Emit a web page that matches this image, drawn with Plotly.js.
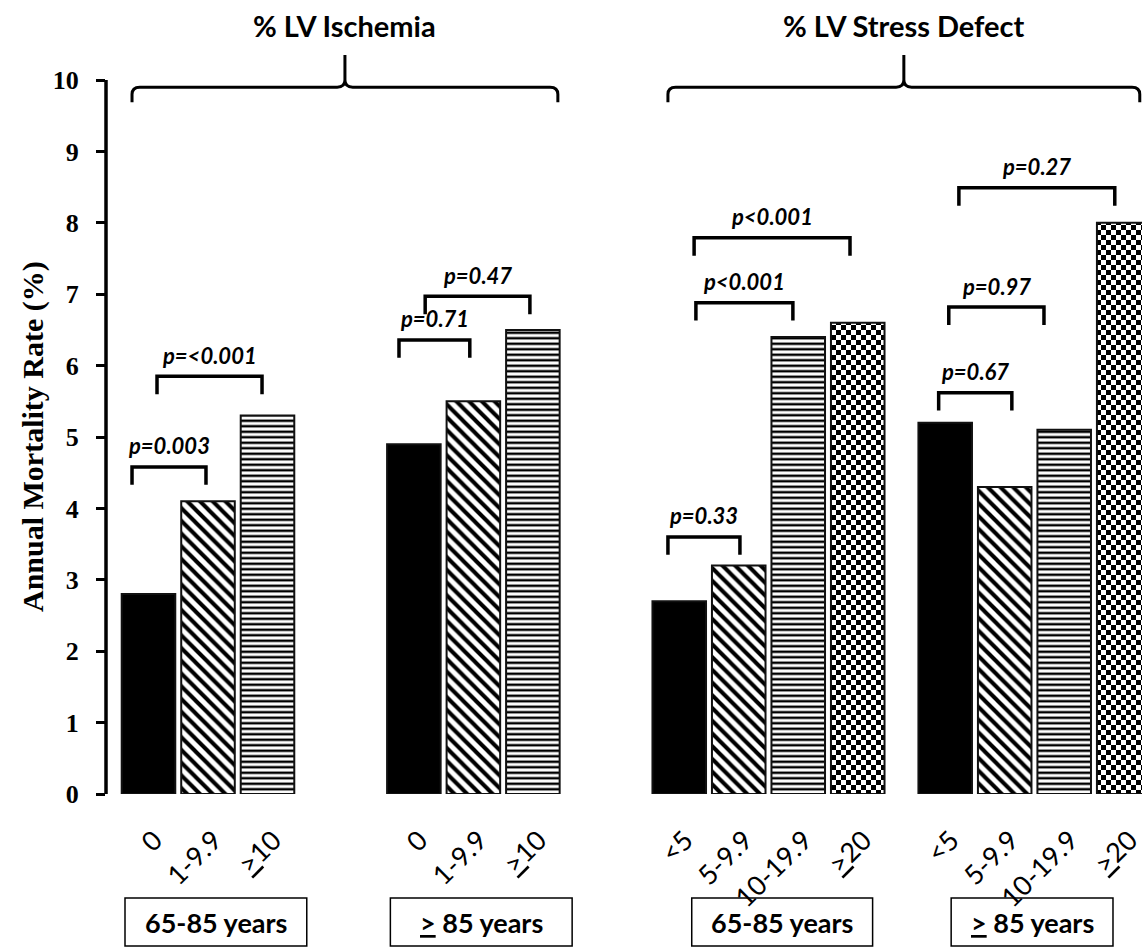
<!DOCTYPE html>
<html><head><meta charset="utf-8">
<script src="https://cdn.plot.ly/plotly-3.0.1.min.js"></script>
<style>html,body{margin:0;padding:0;background:#fff}</style>
</head><body>
<div id="chart" style="width:1142px;height:948px"></div>
<script>
// ---------------- data ----------------
const panelTitles = ['% LV Ischemia', '% LV Stress Defect'];
const groupLabels = ['65-85 years', '<u>&gt;</u> 85 years', '65-85 years', '<u>&gt;</u> 85 years'];
const ischemiaCats = ['0', '1-9.9', '<u>&gt;</u>10'];
const defectCats = ['&lt;5', '5-9.9', '10-19.9', '<u>&gt;</u>20'];
const ischemiaYoung = [2.8, 4.1, 5.3];
const ischemiaOld = [4.9, 5.5, 6.5];
const defectYoung = [2.7, 3.2, 6.4, 6.6];
const defectOld = [5.2, 4.3, 5.1, 8.0];
const yTickVals = [0, 1, 2, 3, 4, 5, 6, 7, 8, 9, 10];
const yTitle = 'Annual Mortality Rate (%)';
// p-value comparisons: label, group, bar from, bar to, bracket height (%)
const pText = ['p=0.003', 'p=&lt;0.001', 'p=0.71', 'p=0.47', 'p=0.33', 'p&lt;0.001', 'p&lt;0.001', 'p=0.67', 'p=0.97', 'p=0.27'];
const pGroup = [0, 0, 1, 1, 2, 2, 2, 3, 3, 3];
const pFrom = [0, 0, 0, 0, 0, 0, 0, 0, 0, 0];
const pTo = [1, 2, 1, 2, 1, 2, 3, 1, 2, 3];
const pLevel = [4.58, 5.85, 6.36, 6.97, 3.60, 6.88, 7.79, 5.62, 6.82, 8.49];

// ---------------- layout helpers ----------------
const groups = [
  {cats: ischemiaCats, vals: ischemiaYoung},
  {cats: ischemiaCats, vals: ischemiaOld},
  {cats: defectCats, vals: defectYoung},
  {cats: defectCats, vals: defectOld}
];
const groupGap = [0, 1.46, 1.46, 0.47];
const barWidth = 0.9;
const starts = [];
let cur = 0;
groups.forEach((g, i) => {
  if (i > 0) cur += groups[i - 1].cats.length + groupGap[i];
  starts.push(cur);
});
const pos = (g, i) => starts[g] + i;

const styles = [
  {color: 'black', pattern: {shape: ''}},
  {color: 'white', pattern: {shape: '\\', fgcolor: 'black', bgcolor: 'white', size: 9, solidity: 0.45, fillmode: 'replace'}},
  {color: 'white', pattern: {shape: '-', fgcolor: 'black', bgcolor: 'white', size: 5.5, solidity: 0.45, fillmode: 'replace'}},
  {color: 'white', pattern: {shape: '+', fgcolor: 'black', bgcolor: 'white', size: 10, solidity: 0.5, fillmode: 'replace'}}
];

const traces = [];
for (let k = 0; k < 4; k++) {
  const xs = [], ys = [];
  groups.forEach((g, gi) => {
    if (k < g.vals.length) { xs.push(pos(gi, k)); ys.push(g.vals[k]); }
  });
  traces.push({
    type: 'bar', x: xs, y: ys, width: barWidth,
    marker: {color: styles[k].color, pattern: styles[k].pattern, line: {color: '#111', width: 2}},
    hoverinfo: 'skip', showlegend: false
  });
}

const tickvals = [], ticktext = [];
groups.forEach((g, gi) => g.cats.forEach((c, i) => { tickvals.push(pos(gi, i)); ticktext.push(c); }));

const plotH = 794;
const pxToPaperY = px => (plotH - px) / plotH;

const shapes = [];
const annotations = [];

// y axis line
shapes.push({type: 'line', xref: 'paper', yref: 'y', x0: 0, x1: 0, y0: 0, y1: 10, line: {color: 'black', width: 3.5}});

// p-value brackets
const dxL = [-0.277, 0.143, -0.25, 0.19, -0.19, 0.28, 0.25, -0.11, 0.06, 0.23];
const dxR = [-0.034, -0.092, -0.06, -0.05, 0.02, -0.09, -0.13, 0.12, -0.34, -0.15];
const leg = 0.25;
pText.forEach((t, i) => {
  const xl = pos(pGroup[i], pFrom[i]) + dxL[i];
  const xr = pos(pGroup[i], pTo[i]) + dxR[i];
  const y = pLevel[i];
  shapes.push({type: 'path', xref: 'x', yref: 'y',
    path: `M${xl},${y - leg} L${xl},${y} L${xr},${y} L${xr},${y - leg}`,
    line: {color: 'black', width: 3.5}});
  annotations.push({xref: 'x', yref: 'y', x: (xl + xr) / 2, y: y, yshift: 21, yanchor: 'middle',
    text: t, showarrow: false,
    font: {family: 'Lato', size: 22, weight: 'bold', style: 'italic', color: 'black'}});
});

// panel braces and titles
const panelGroups = [[0, 1], [2, 3]];
const braceL = [-0.277, -0.19];
const braceR = [0.42, 0.27];
const yH = 9.90, yEnd = 9.69, yTop = 10.35, rx = 0.13, ry = 0.1;
panelGroups.forEach((pg, p) => {
  const xl = pos(pg[0], 0) + braceL[p];
  const lastG = pg[1];
  const xr = pos(lastG, groups[lastG].cats.length - 1) + braceR[p];
  const xm = (xl + xr) / 2;
  const path = `M${xl},${yEnd} L${xl},${yH - ry} Q${xl},${yH} ${xl + rx},${yH} L${xm - rx},${yH} Q${xm},${yH} ${xm},${yH + ry} L${xm},${yTop} ` +
    `M${xm},${yH + ry} Q${xm},${yH} ${xm + rx},${yH} L${xr - rx},${yH} Q${xr},${yH} ${xr},${yH - ry} L${xr},${yEnd}`;
  shapes.push({type: 'path', xref: 'x', yref: 'y', path: path, line: {color: 'black', width: 3}});
  annotations.push({xref: 'x', yref: 'y', x: xm, y: 10.77, yanchor: 'middle', text: panelTitles[p], showarrow: false,
    font: {family: 'Lato', size: 29, weight: 'bold', color: 'black'}});
});

// group label boxes
const boxL = [-0.395, -0.395, 0.21, 0.10];
const boxR = [0.66, 0.66, 0.25, -0.18];
groups.forEach((g, gi) => {
  const x0 = pos(gi, 0) + boxL[gi];
  const x1 = pos(gi, g.cats.length - 1) + boxR[gi];
  shapes.push({type: 'rect', xref: 'x', yref: 'paper', x0: x0, x1: x1, y0: pxToPaperY(946), y1: pxToPaperY(898),
    line: {color: 'black', width: 1.5}, fillcolor: 'rgba(0,0,0,0)'});
  annotations.push({xref: 'x', yref: 'paper', x: (x0 + x1) / 2, y: pxToPaperY(922), yanchor: 'middle',
    text: groupLabels[gi], showarrow: false, font: {family: 'Lato', size: 27, weight: 'bold', color: 'black'}});
});

// y axis title
annotations.push({xref: 'paper', yref: 'y', x: (33 - 106) / 1036, y: 5, xanchor: 'center', yanchor: 'middle',
  text: yTitle, textangle: -90, showarrow: false,
  font: {family: 'Liberation Serif', size: 30, weight: 'bold', color: 'black'}});

const slotPx = 59.5, firstPx = 148.5, leftPx = 106, rightPx = 1142;
const layout = {
  width: 1142, height: 948,
  margin: {l: leftPx, r: 1142 - rightPx, t: 0, b: 948 - plotH, pad: 0},
  paper_bgcolor: 'white', plot_bgcolor: 'white',
  barmode: 'overlay', showlegend: false,
  xaxis: {
    range: [(leftPx - firstPx) / slotPx, (rightPx - firstPx) / slotPx],
    tickvals: tickvals, ticktext: ticktext, tickangle: -45,
    ticks: '', showline: false, zeroline: false, showgrid: false,
    ticklabelstandoff: 24, ticklabelshift: 6, ticklabeloverflow: 'allow',
    tickfont: {family: 'Lato', size: 27, color: 'black'}, fixedrange: true
  },
  yaxis: {
    range: [0, plotH / 71.4], tickvals: yTickVals,
    ticks: 'outside', ticklen: 9, tickwidth: 3, tickcolor: 'black',
    showline: false, zeroline: false, showgrid: false,
    ticklabelstandoff: 12,
    tickfont: {family: 'Liberation Serif', size: 26, weight: 'bold', color: 'black'}, fixedrange: true
  },
  shapes: shapes, annotations: annotations
};

const gd = document.getElementById('chart');
Plotly.newPlot(gd, traces, layout, {staticPlot: true, displayModeBar: false}).then(() => {
  // checkerboard fill for the 4th bar style
  const svgNS = 'http://www.w3.org/2000/svg';
  const svg = gd.querySelector('svg.main-svg');
  let defs = svg.querySelector('defs');
  const pat = document.createElementNS(svgNS, 'pattern');
  pat.setAttribute('id', 'checkerFill');
  pat.setAttribute('patternUnits', 'userSpaceOnUse');
  pat.setAttribute('width', '10'); pat.setAttribute('height', '10');
  const mk = (x, y, w, h, c) => { const r = document.createElementNS(svgNS, 'rect');
    r.setAttribute('x', x); r.setAttribute('y', y); r.setAttribute('width', w); r.setAttribute('height', h); r.setAttribute('fill', c); pat.appendChild(r); };
  mk(0, 0, 10, 10, 'white'); mk(0, 0, 5, 5, 'black'); mk(5, 5, 5, 5, 'black');
  defs.appendChild(pat);
  const tr = gd.querySelectorAll('.barlayer .trace')[3];
  if (tr) tr.querySelectorAll('path').forEach(p => { p.style.fill = 'url(#checkerFill)'; });
});
</script>
</body></html>
